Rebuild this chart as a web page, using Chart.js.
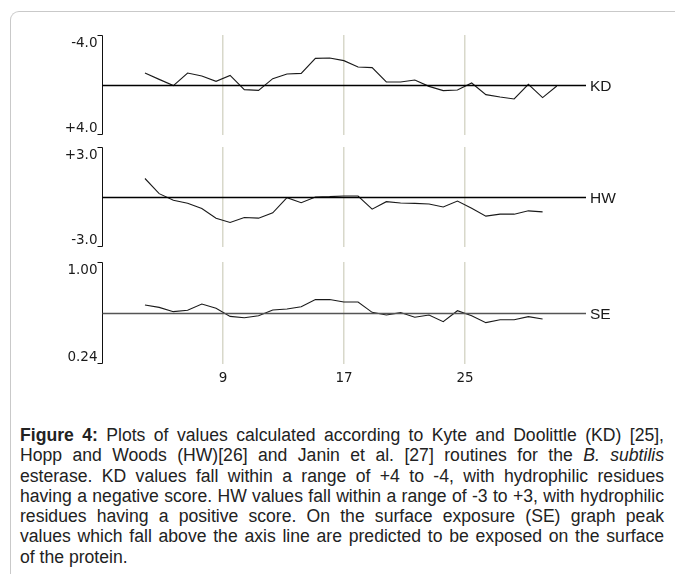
<!DOCTYPE html>
<html lang="en">
<head>
  <meta charset="UTF-8">
  <title>Figure 4</title>
  <script src="https://cdn.jsdelivr.net/npm/chart.js"></script>
  <style>
    html, body { margin: 0; padding: 0; background: #fff; }
    body { width: 675px; height: 574px; position: relative; overflow: hidden; }
    .frame {
      position: absolute; left: 10px; top: 11px; width: 720px; height: 620px;
      border-left: 1.5px solid #c9c9c9; border-top: 1.5px solid #c9c9c9;
      border-top-left-radius: 9px;
    }
    canvas { position: absolute; left: 0; }
    #kd { top: 25px; }
    #hw { top: 137px; }
    #se { top: 252px; }
    .caption {
      position: absolute; left: 20px; top: 425px; width: 644px;
      font-family: "Liberation Sans", Arial, sans-serif;
      font-size: 17.6px; line-height: 20.3px; color: #222;
    }
    .caption div { text-align: justify; text-align-last: justify; white-space: nowrap; }
    .caption div.last { text-align-last: left; }
  </style>
</head>
<body>
  <div class="frame"></div>
  <canvas id="kd" width="675" height="120"></canvas>
  <canvas id="hw" width="675" height="120"></canvas>
  <canvas id="se" width="675" height="150"></canvas>

  <div class="caption">
    <div><b>Figure 4:</b> Plots of values calculated according to Kyte and Doolittle (KD) [25],</div>
    <div>Hopp and Woods (HW)[26] and Janin et al. [27] routines for the <i>B. subtilis</i></div>
    <div>esterase. KD values fall within a range of +4 to -4, with hydrophilic residues</div>
    <div>having a negative score. HW values fall within a range of -3 to +3, with hydrophilic</div>
    <div>residues having a positive score. On the surface exposure (SE) graph peak</div>
    <div>values which fall above the axis line are predicted to be exposed on the surface</div>
    <div class="last">of the protein.</div>
  </div>

  <script>
    // residue positions of the plotted points
    const residues = [3.84, 4.78, 5.72, 6.66, 7.60, 8.54, 9.47, 10.41, 11.35, 12.29,
      13.23, 14.17, 15.11, 16.05, 16.99, 17.93, 18.86, 19.80, 20.74, 21.68,
      22.62, 23.56, 24.50, 25.44, 26.38, 27.32, 28.25, 29.19, 30.13, 31.07];
    const xTicks = [9, 17, 25];

    const kdValues = [-0.96, -0.45, 0.05, -0.96, -0.72, -0.29, -0.77, 0.37, 0.43, -0.51,
      -0.88, -0.93, -2.13, -2.16, -1.95, -1.44, -1.39, -0.24, -0.24, -0.40,
      0.11, 0.45, 0.40, -0.16, 0.77, 0.96, 1.12, -0.05, 1.01, 0.08];
    const hwValues = [1.11, 0.20, -0.20, -0.38, -0.69, -1.27, -1.53, -1.23, -1.27, -0.95,
      -0.04, -0.34, 0.00, 0.02, 0.06, 0.06, -0.73, -0.28, -0.36, -0.38,
      -0.42, -0.60, -0.24, -0.67, -1.15, -1.03, -1.03, -0.83, -0.89];
    const seValues = [0.680, 0.662, 0.630, 0.640, 0.687, 0.655, 0.595, 0.585, 0.600, 0.642,
      0.650, 0.667, 0.720, 0.720, 0.702, 0.702, 0.625, 0.605, 0.623, 0.588,
      0.605, 0.555, 0.637, 0.600, 0.548, 0.570, 0.570, 0.593, 0.575];

    const kdRange = [-4, 4], kdLabels = ['-4.0', '+4.0'];
    const hwRange = [-3, 3], hwLabels = ['+3.0', '-3.0'];
    const seRange = [0.24, 1.00], seLabels = ['1.00', '0.24'];

    // bracket axis, centre axis line and series name
    const panelAxis = {
      id: 'panelAxis',
      afterDatasetsDraw(chart, args, opts) {
        const { ctx, chartArea: a, scales: { y } } = chart;
        const midY = Math.round(y.getPixelForValue(opts.mid)) + 0.5;
        const l = Math.round(a.left) + 0.5;
        ctx.save();
        ctx.strokeStyle = '#111';
        ctx.lineWidth = 1;
        ctx.beginPath();
        ctx.moveTo(l - 5, a.top + 0.5);
        ctx.lineTo(l, a.top + 0.5);
        ctx.lineTo(l, a.bottom - 0.5);
        ctx.lineTo(l - 5, a.bottom - 0.5);
        ctx.stroke();

        ctx.strokeStyle = opts.lineColor;
        ctx.lineWidth = 1.3;
        ctx.beginPath();
        ctx.moveTo(l, midY);
        ctx.lineTo(a.right, midY);
        ctx.stroke();

        ctx.fillStyle = '#1a1a1a';
        ctx.font = '13.5px "DejaVu Sans"';
        ctx.textAlign = 'right';
        ctx.textBaseline = 'top';
        ctx.fillText(opts.labels[0], l - 5, a.top + 2);
        ctx.textBaseline = 'bottom';
        ctx.fillText(opts.labels[1], l - 5, a.bottom);

        ctx.font = '15.5px "Liberation Sans"';
        ctx.textAlign = 'left';
        ctx.textBaseline = 'middle';
        ctx.fillText(opts.name, a.right + 4, midY + 1);
        ctx.restore();
      }
    };

    function makePanel(id, name, values, range, labels, reverse, lineColor, bottom) {
      new Chart(document.getElementById(id), {
        type: 'line',
        data: {
          datasets: [{
            data: values.map((v, i) => ({ x: residues[i], y: v })),
            borderColor: '#1a1a1a', borderWidth: 1.1, pointRadius: 0, tension: 0, fill: false
          }]
        },
        options: {
          responsive: false,
          animation: false,
          layout: { padding: { left: 102, right: 89, top: 10, bottom: bottom ? 0 : 10 } },
          plugins: {
            legend: { display: false },
            tooltip: { enabled: false },
            panelAxis: { name, labels, mid: (range[0] + range[1]) / 2, lineColor }
          },
          scales: {
            x: {
              type: 'linear', min: 1, max: 33,
              afterBuildTicks: s => { s.ticks = xTicks.map(v => ({ value: v })); },
              afterFit: s => { s.height = bottom ? 38 : 0; },
              grid: { color: '#d8d8ca', lineWidth: 1.5, drawTicks: false },
              border: { display: false },
              ticks: {
                display: bottom, padding: 6, color: '#1a1a1a',
                font: { family: 'DejaVu Sans', size: 13.5 }
              }
            },
            y: { display: false, min: range[0], max: range[1], reverse }
          }
        },
        plugins: [panelAxis]
      });
    }

    makePanel('kd', 'KD', kdValues, kdRange, kdLabels, true, '#000', false);
    makePanel('hw', 'HW', hwValues, hwRange, hwLabels, false, '#000', false);
    makePanel('se', 'SE', seValues, seRange, seLabels, false, '#555', true);
  </script>
</body>
</html>
